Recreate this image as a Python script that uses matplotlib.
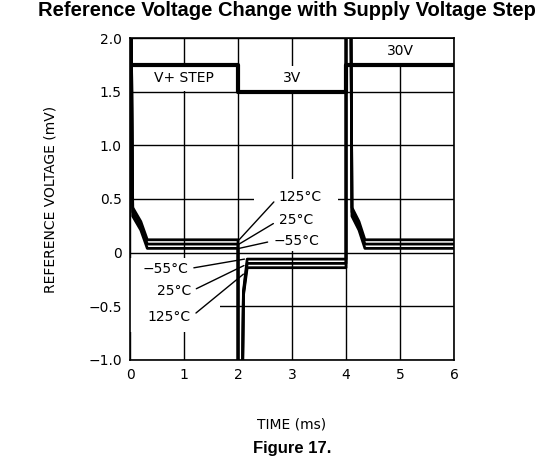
import matplotlib
matplotlib.use('Agg')
import matplotlib.pyplot as plt
from matplotlib.patches import Rectangle

# supply step (V+) trace
step_t = [0, 2, 2, 4, 4, 6]
step_v = [1.75, 1.75, 1.5, 1.5, 1.75, 1.75]

# reference voltage traces, one per temperature
t_pts = [0.02, 0.05, 0.2, 0.32, 2.0, 2.0, 2.08, 2.1, 2.17, 4.0, 4.0, 4.09, 4.11, 4.24, 4.35, 6.0]
v_125 = [2.3, 0.42, 0.29, 0.12, 0.12, -1.3, -1.3, -0.4, -0.14, -0.14, 2.3, 2.3, 0.42, 0.29, 0.12, 0.12]
v_25 = [2.3, 0.38, 0.25, 0.08, 0.08, -1.3, -1.3, -0.38, -0.10, -0.10, 2.3, 2.3, 0.38, 0.25, 0.08, 0.08]
v_m55 = [2.3, 0.34, 0.21, 0.04, 0.04, -1.3, -1.3, -0.36, -0.06, -0.06, 2.3, 2.3, 0.34, 0.21, 0.04, 0.04]

x_ticks = [0, 1, 2, 3, 4, 5, 6]
y_ticks = [-1.0, -0.5, 0, 0.5, 1.0, 1.5, 2.0]
y_labels = ['\u22121.0', '\u22120.5', '0', '0.5', '1.0', '1.5', '2.0']

fig = plt.figure(figsize=(5.44, 4.59), dpi=100)
ax = fig.add_axes([0.239, 0.2157, 0.5956, 0.7015])

ax.set_xlim(0, 6)
ax.set_ylim(-1.0, 2.0)
ax.set_xticks(x_ticks)
ax.set_yticks(y_ticks)
ax.set_yticklabels(y_labels)
ax.tick_params(length=0, labelsize=10, pad=6)
ax.grid(True, color='black', lw=1)
ax.set_axisbelow(True)
for s in ax.spines.values():
    s.set_linewidth(1.2)

# white blank areas behind labels
for (x0, y0, w, h) in [(0.02, 1.51, 1.96, 0.23), (2.02, 1.51, 1.96, 0.23),
                       (4.02, 1.76, 1.96, 0.23), (2.3, 0.02, 1.55, 0.67),
                       (0.0, -0.74, 1.67, 0.69)]:
    ax.add_patch(Rectangle((x0, y0), w, h, facecolor='white', edgecolor='none', zorder=1))

ax.plot(step_t, step_v, color='black', lw=3, zorder=3)
for v in (v_125, v_25, v_m55):
    ax.plot(t_pts, v, color='black', lw=2, zorder=3)

ax.text(1.0, 1.625, 'V+ STEP', ha='center', va='center', fontsize=10, zorder=4)
ax.text(3.0, 1.625, '3V', ha='center', va='center', fontsize=10, zorder=4)
ax.text(5.0, 1.875, '30V', ha='center', va='center', fontsize=10, zorder=4)

lead = dict(arrowstyle='-', lw=1, color='black', shrinkA=2, shrinkB=0)
ax.annotate('125\u00b0C', xy=(2.02, 0.12), xytext=(2.75, 0.52), ha='left', va='center',
            fontsize=10, zorder=4, arrowprops=dict(lead, relpos=(0, 0.5)))
ax.annotate('25\u00b0C', xy=(2.02, 0.08), xytext=(2.75, 0.30), ha='left', va='center',
            fontsize=10, zorder=4, arrowprops=dict(lead, relpos=(0, 0.5)))
ax.annotate('\u221255\u00b0C', xy=(2.02, 0.04), xytext=(2.65, 0.11), ha='left', va='center',
            fontsize=10, zorder=4, arrowprops=dict(lead, relpos=(0, 0.5)))
ax.annotate('\u221255\u00b0C', xy=(2.12, -0.06), xytext=(1.08, -0.15), ha='right', va='center',
            fontsize=10, zorder=4, arrowprops=dict(lead, relpos=(1, 0.5)))
ax.annotate('25\u00b0C', xy=(2.11, -0.12), xytext=(1.13, -0.36), ha='right', va='center',
            fontsize=10, zorder=4, arrowprops=dict(lead, relpos=(1, 0.5)))
ax.annotate('125\u00b0C', xy=(2.1, -0.2), xytext=(1.13, -0.6), ha='right', va='center',
            fontsize=10, zorder=4, arrowprops=dict(lead, relpos=(1, 0.5)))

ax.set_ylabel('REFERENCE VOLTAGE (mV)', fontsize=10, labelpad=22)
fig.text(292 / 544, 1 - 425 / 459, 'TIME (ms)', ha='center', va='center', fontsize=10)
fig.text(287 / 544, 1 - 11 / 459, 'Reference Voltage Change with Supply Voltage Step',
         ha='center', va='center', fontsize=14.5, fontweight='bold', family='Liberation Sans')
fig.text(292 / 544, 1 - 449 / 459, 'Figure 17.', ha='center', va='center',
         fontsize=12, fontweight='bold', family='Liberation Sans')

fig.savefig('out.png', dpi=100)
